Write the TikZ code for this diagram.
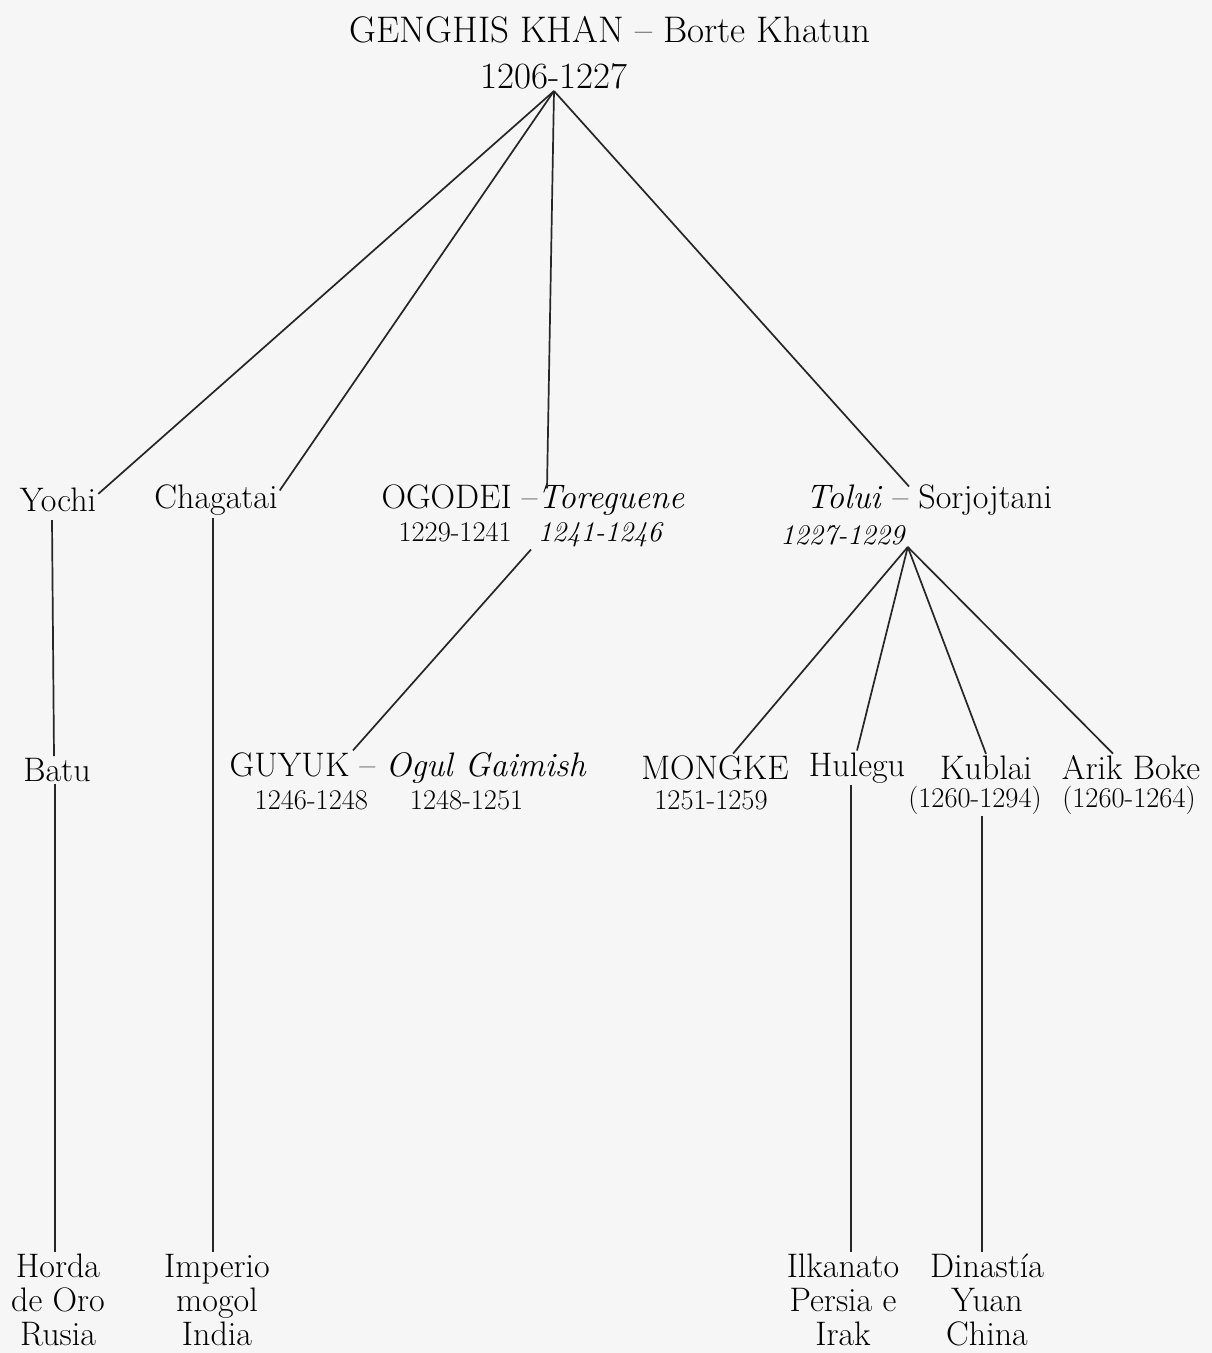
\documentclass[tikz,border=0pt]{standalone}
\usetikzlibrary{positioning}

\definecolor{paper}{RGB}{246,246,246}

\begin{document}
\begin{tikzpicture}[
  x=1pt, y=-1pt,
  person/.style={font=\fontsize{34}{36}\selectfont, inner sep=2pt},
  yrs/.style={font=\fontsize{28.5}{31}\selectfont, inner sep=2pt},
  realm/.style={font=\fontsize{34}{34}\selectfont, align=center, inner sep=2pt},
  kin/.style={line width=1.7pt, draw=black!85}
]

\fill[paper] (0,0) rectangle (1212,1353);
\useasboundingbox (0,0) rectangle (1212,1353);

% --- founder couple ---
\node[person, font=\fontsize{37}{40}\selectfont] (gk) at (610,30) {GENGHIS KHAN -- Borte Khatun};
\node[yrs, font=\fontsize{37}{40}\selectfont] (gkd) at (554,76) {1206-1227};

% --- sons ---
\node[person] (yochi)    at (58,500)  {Yochi};
\node[person] (chagatai) at (216,500) {Chagatai};
\node[person] (ogodei)   at (533,500) {OGODEI --\textit{Toreguene}};
\node[yrs]    (ogd)      at (531,535) {1229-1241\hspace{26pt}\textit{1241-1246}};
\node[person] (tolui)    at (929,500) {\textit{Tolui} -- Sorjojtani};
\node[yrs]    (toluid)   at (843,535) {\textit{1227-1229}};

% --- grandsons ---
\node[person] (batu)    at (57,770)   {Batu};
\node[person] (guyuk)   at (408,768)  {GUYUK -- \textit{Ogul Gaimish}};
\node[yrs]    (guyd)    at (389,800)  {1246-1248\hspace{42pt}1248-1251};
\node[person] (mongke)  at (715,768)  {MONGKE};
\node[yrs]    (mongked) at (711,800)  {1251-1259};
\node[person] (hulegu)  at (857,768)  {Hulegu};
\node[person] (kublai)  at (986,768)  {Kublai};
\node[yrs]    (kublaid) at (975,800)  {(1260-1294)};
\node[person] (arik)    at (1131,768) {Arik Boke};
\node[yrs]    (arikd)   at (1129,800) {(1260-1264)};

% --- realms ---
\node[realm] (horda)    at (58,1300)  {Horda\\de Oro\\Rusia};
\node[realm] (imperio)  at (217,1300) {Imperio\\mogol\\India};
\node[realm] (ilkanato) at (843,1300) {Ilkanato\\Persia e\\Irak};
\node[realm] (dinastia) at (987,1300) {Dinastía\\Yuan\\China};

% Genghis Khan -> sons
\draw[kin] (gkd.south) -- ([yshift=-8pt]yochi.north east);
\draw[kin] (gkd.south) -- ([yshift=-8pt]chagatai.north east);
\draw[kin] (gkd.south) -- ([xshift=14pt,yshift=-6pt]ogodei.north);
\draw[kin] (gkd.south) -- ([xshift=-20pt,yshift=-4pt]tolui.north);

% Ogodei -> Guyuk
\draw[kin] (ogd.south) -- ([xshift=-55pt]guyuk.north);

% Tolui -> his sons
\draw[kin] (toluid.south east) -- ([xshift=18pt]mongke.north);
\draw[kin] (toluid.south east) -- (hulegu.north);
\draw[kin] (toluid.south east) -- (kublai.north);
\draw[kin] (toluid.south east) -- ([xshift=-18pt]arik.north);

% lines of descent down to the realms
\draw[kin] ([xshift=-6pt,yshift=-6pt]yochi.south) -- ([xshift=-3pt]batu.north);
\draw[kin] ([xshift=-2pt]batu.south) -- ([xshift=-3pt]horda.north);
\draw[kin] ([xshift=-3pt]chagatai.south) -- ([xshift=-3pt]chagatai.south |- imperio.north);
\draw[kin] ([xshift=-6pt]hulegu.south) -- ([xshift=-6pt]hulegu.south |- ilkanato.north);
\draw[kin] ([xshift=7pt]kublaid.south) -- ([xshift=7pt]kublaid.south |- dinastia.north);

\end{tikzpicture}
\end{document}
